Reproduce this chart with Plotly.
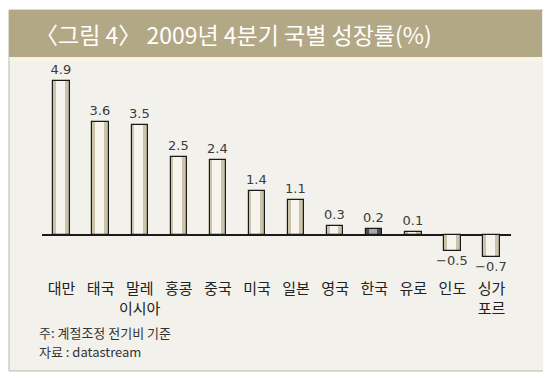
import plotly.graph_objects as go

countries = ["대만", "태국", "말레이시아", "홍콩", "중국", "미국", "일본", "영국", "한국", "유로", "인도", "싱가포르"]
tick_labels = ["대만", "태국", "말레<br>이시아", "홍콩", "중국", "미국", "일본", "영국", "한국", "유로", "인도", "싱가<br>포르"]
growth = [4.9, 3.6, 3.5, 2.5, 2.4, 1.4, 1.1, 0.3, 0.2, 0.1, -0.5, -0.7]
highlight = "한국"

title_text = "〈그림 4〉 2009년 4분기 국별 성장률(%)"
note_text = "주: 계절조정 전기비 기준"
source_text = "자료 : datastream"

OFF = 8  # default page body margin
W, H = 551 - OFF, 386 - OFF
L, R, T, B = 42, 511, 70, 278  # plot area in page pixels
pw, ph = R - L, B - T

def px(x):
    return (x - L) / pw

def py(y):
    return (B - y) / ph

outer_col = ["#4d4d4d" if c == highlight else "#cbc4aa" for c in countries]
inner_col = ["#a8a8a8" if c == highlight else "#f6f4ec" for c in countries]
labels = [f"{v:.1f}".replace("-", "−") for v in growth]

fig = go.Figure()
fig.add_trace(go.Bar(x=countries, y=growth, width=0.42, marker=dict(color=outer_col, line=dict(width=0)),
                     hoverinfo="skip", showlegend=False))
fig.add_trace(go.Bar(x=countries, y=growth, width=0.22, offset=-0.14, marker=dict(color=inner_col, line=dict(width=0)),
                     hoverinfo="skip", showlegend=False))
fig.add_trace(go.Bar(x=countries, y=growth, width=0.42, marker=dict(color="rgba(0,0,0,0)", line=dict(color="#1a1a1a", width=1.2)),
                     text=labels, textposition="outside", cliponaxis=False, constraintext="none",
                     textfont=dict(family="DejaVu Sans", size=13, color="#3a3a3a"),
                     showlegend=False))

fig.update_layout(
    width=W, height=H,
    margin=dict(l=L - OFF, r=551 - R, t=T - OFF, b=386 - B),
    paper_bgcolor="white", plot_bgcolor="rgba(0,0,0,0)",
    barmode="overlay", bargap=0,
    font=dict(family="Noto Sans CJK KR", color="#222"),
    xaxis=dict(type="category", tickvals=countries, ticktext=tick_labels, ticks="",
               showgrid=False, showline=False, zeroline=False,
               tickfont=dict(family="Noto Sans CJK KR", size=15, color="#222"), range=[-0.5, 11.5]),
    yaxis=dict(range=[-1.369, 5.255], showticklabels=False, showgrid=False, showline=False,
               zeroline=True, zerolinecolor="#1a1a1a", zerolinewidth=1.5),
)

shapes = [
    dict(type="rect", xref="paper", yref="paper", x0=px(9), x1=px(545), y0=py(371), y1=py(10),
         fillcolor="#f3f1eb", line=dict(color="#b9b8ab", width=1), layer="below"),
    dict(type="rect", xref="paper", yref="paper", x0=px(9.5), x1=px(544.5), y0=py(61), y1=py(57),
         fillcolor="#f8f5e6", line=dict(width=0), layer="below"),
    dict(type="rect", xref="paper", yref="paper", x0=px(9), x1=px(542), y0=py(57), y1=py(10),
         fillcolor="#b3a886", line=dict(width=0), layer="below"),
]
fig.update_layout(shapes=shapes)

fig.add_annotation(text=title_text, xref="paper", yref="paper", x=px(33), y=py(34),
                   xanchor="left", yanchor="middle", showarrow=False,
                   font=dict(family="Noto Sans CJK KR", size=23, color="white"))
fig.add_annotation(text=note_text, xref="paper", yref="paper", x=px(37), y=py(332),
                   xanchor="left", yanchor="middle", showarrow=False,
                   font=dict(family="Noto Sans CJK KR", size=13, color="#333"))
fig.add_annotation(text=source_text, xref="paper", yref="paper", x=px(37), y=py(351),
                   xanchor="left", yanchor="middle", showarrow=False,
                   font=dict(family="Noto Sans CJK KR", size=13, color="#333"))

fig.write_html("out.html")
